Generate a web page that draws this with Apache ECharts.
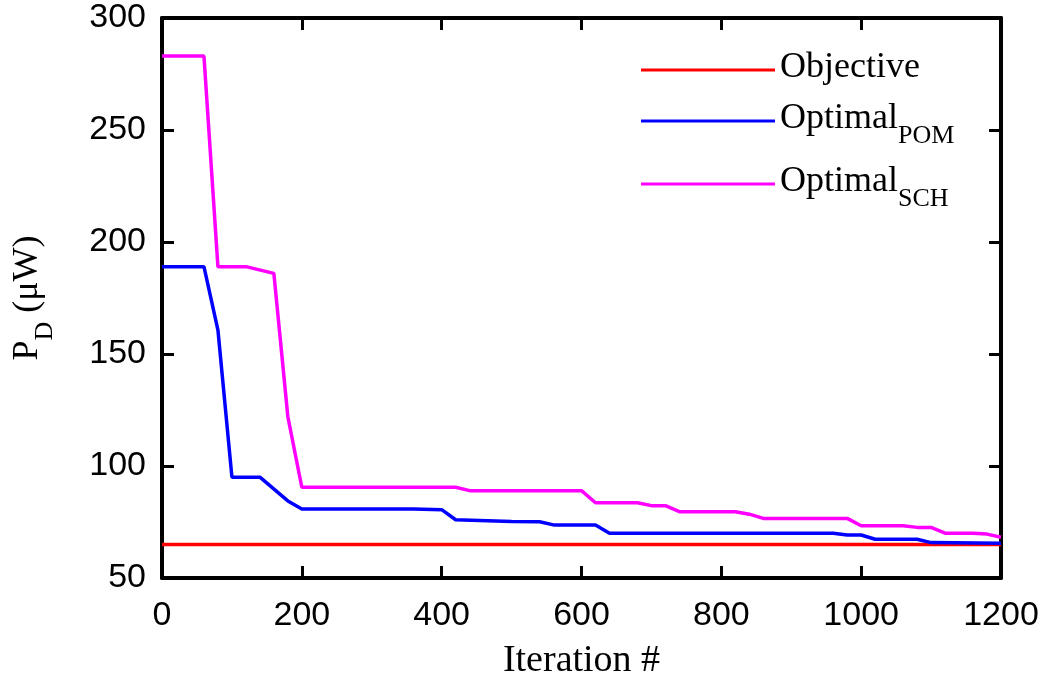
<!DOCTYPE html>
<html>
<head>
<meta charset="utf-8">
<title>P_D vs iteration</title>
<script src="https://cdn.jsdelivr.net/npm/echarts@6/dist/echarts.min.js"></script>
<style>
  html, body { margin: 0; padding: 0; background: #fff; }
  #chart { width: 1045px; height: 684px; }
</style>
</head>
<body>
<div id="chart"></div>
<script>
// 数据：迭代次数与功耗 (μW)
const objIter = [0, 1200];
const objVal = [65, 65];

const pomIter = [0, 60, 80, 100, 140, 180, 200, 360, 400, 420, 500, 540, 560, 620, 640, 960, 980, 1000, 1020, 1080, 1100, 1200];
const pomVal = [189, 189, 160.7, 95, 95, 84.4, 80.8, 80.8, 80.5, 76, 75.2, 75.1, 73.7, 73.7, 70, 70, 69.2, 69.2, 67.3, 67.3, 65.8, 65.5];

const schIter = [0, 60, 80, 120, 160, 180, 200, 420, 440, 600, 620, 680, 700, 720, 740, 820, 840, 860, 980, 1000, 1060, 1080, 1100, 1120, 1160, 1180, 1200];
const schVal = [283, 283, 189, 189, 186, 122, 90.5, 90.5, 89, 89, 83.6, 83.6, 82.3, 82.3, 79.6, 79.6, 78.5, 76.6, 76.6, 73.3, 73.3, 72.6, 72.6, 70, 70, 69.6, 68.2];

function pairs(xs, ys) {
  return xs.map((x, i) => [x, ys[i]]);
}

const chart = echarts.init(document.getElementById('chart'));

// 每根轴单独生成样式对象
function frameLine() {
  return { show: true, onZero: false, lineStyle: { color: '#000', width: 4 } };
}
function innerTick() {
  return { show: true, inside: true, length: 12, lineStyle: { color: '#000', width: 3 } };
}
function tickLabel(margin) {
  return {
    margin: margin,
    fontFamily: 'Liberation Sans',
    fontSize: 34,
    color: '#000',
    formatter: function (v) { return String(v); }
  };
}

const richName = {
  n: { fontFamily: 'Liberation Serif', fontSize: 36, color: '#000', verticalAlign: 'top', lineHeight: 40 },
  s: { fontFamily: 'Liberation Serif', fontSize: 26, color: '#000', verticalAlign: 'top', lineHeight: 26, padding: [22, 0, 0, 0] }
};

const option = {
  animation: false,
  grid: {
    left: 162,
    right: 44,
    top: 18,
    bottom: 106,
    containLabel: false,
    outerBoundsMode: 'none'
  },
  legend: {
    orient: 'vertical',
    left: 636,
    top: 45,
    itemWidth: 134,
    itemHeight: 14,
    itemGap: 15,
    itemTextGap: 12,
    icon: 'path://M0,5.5 L134,5.5 L134,8.5 L0,8.5 Z',
    data: ['Objective', 'Optimal_POM', 'Optimal_SCH'],
    formatter: function (name) {
      const parts = name.split('_');
      if (parts.length === 2) {
        return '{n|' + parts[0] + '}{s|' + parts[1] + '}';
      }
      return '{n|' + name + '}';
    },
    textStyle: { rich: richName }
  },
  xAxis: [
    {
      type: 'value',
      min: 0,
      max: 1200,
      interval: 200,
      name: 'Iteration #',
      nameLocation: 'middle',
      nameGap: 64,
      nameTextStyle: { fontFamily: 'Liberation Serif', fontSize: 38, color: '#000' },
      axisLine: frameLine(),
      axisTick: innerTick(),
      axisLabel: tickLabel(21),
      splitLine: { show: false }
    },
    {
      type: 'value',
      position: 'top',
      min: 0,
      max: 1200,
      interval: 200,
      axisLine: frameLine(),
      axisTick: innerTick(),
      axisLabel: { show: false },
      splitLine: { show: false }
    }
  ],
  yAxis: [
    {
      type: 'value',
      min: 50,
      max: 300,
      interval: 50,
      name: '{n|P}{s|D}{n| (μW)}',
      nameLocation: 'middle',
      nameRotate: 90,
      nameGap: 112,
      nameTextStyle: { rich: richName },
      axisLine: frameLine(),
      axisTick: innerTick(),
      axisLabel: tickLabel(16),
      splitLine: { show: false }
    },
    {
      type: 'value',
      position: 'right',
      min: 50,
      max: 300,
      interval: 50,
      axisLine: frameLine(),
      axisTick: innerTick(),
      axisLabel: { show: false },
      splitLine: { show: false }
    }
  ],
  series: [
    {
      name: 'Objective',
      type: 'line',
      data: pairs(objIter, objVal),
      symbol: 'none',
      itemStyle: { color: '#ff0000' },
      lineStyle: { color: '#ff0000', width: 3.5 }
    },
    {
      name: 'Optimal_POM',
      type: 'line',
      data: pairs(pomIter, pomVal),
      symbol: 'none',
      itemStyle: { color: '#0000ff' },
      lineStyle: { color: '#0000ff', width: 3.5 }
    },
    {
      name: 'Optimal_SCH',
      type: 'line',
      data: pairs(schIter, schVal),
      symbol: 'none',
      itemStyle: { color: '#ff00ff' },
      lineStyle: { color: '#ff00ff', width: 3.5 }
    }
  ]
};

chart.setOption(option);
window.addEventListener('resize', function () {
  chart.resize();
});
</script>
</body>
</html>
